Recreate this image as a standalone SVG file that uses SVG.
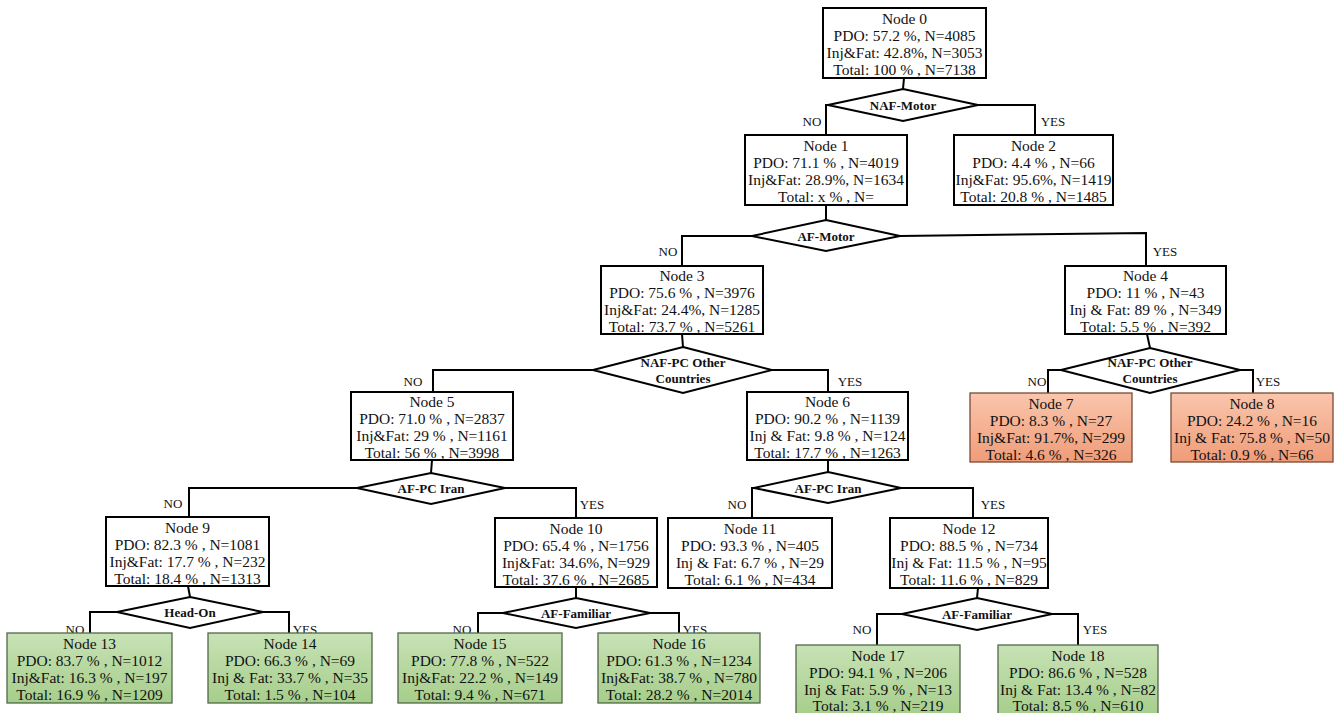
<svg xmlns="http://www.w3.org/2000/svg" width="1338" height="713" viewBox="0 0 1338 713">
<defs>
<linearGradient id="gSal" x1="0" y1="0" x2="0" y2="1"><stop offset="0" stop-color="#F9C6AD"/><stop offset="1" stop-color="#F09C78"/></linearGradient>
<linearGradient id="gGrn" x1="0" y1="0" x2="0" y2="1"><stop offset="0" stop-color="#C8E2B6"/><stop offset="1" stop-color="#A6CE8B"/></linearGradient>
<style>
.box{fill:#fff;stroke:#000;stroke-width:2}
.sal{fill:url(#gSal);stroke:#7a4a36;stroke-width:1.3}
.grn{fill:url(#gGrn);stroke:#52684a;stroke-width:1.3}
.dia{fill:#fff;stroke:#000;stroke-width:2}
.ln{fill:none;stroke:#000;stroke-width:2}
text{font-family:'Liberation Serif','Tinos','Times New Roman','DejaVu Serif',serif}
.t{font-size:15.5px;fill:#111;text-anchor:middle}
.d{font-size:13px;font-weight:bold;fill:#111;text-anchor:middle}
.l{font-size:13px;fill:#111;text-anchor:middle}
</style>
</defs>
<rect width="1338" height="713" fill="#fff"/>

<g id="connectors">
<polyline class="ln" points="904,78 903,89"/>
<polyline class="ln" points="828,105 826,105 826,135"/>
<polyline class="ln" points="978,105 1035,105 1035,135"/>
<polyline class="ln" points="826,205 826,220"/>
<polyline class="ln" points="752,236 682,236 682,266"/>
<polyline class="ln" points="900,236 1146,233 1146,266"/>
<polyline class="ln" points="682,334 683,347"/>
<polyline class="ln" points="593,370 433,370 433,392"/>
<polyline class="ln" points="772,370 828,370 828,392"/>
<polyline class="ln" points="1147,334 1150,348"/>
<polyline class="ln" points="1061,370 1048,370 1048,393"/>
<polyline class="ln" points="1240,370 1253,370 1253,393"/>
<polyline class="ln" points="432,460 431,473"/>
<polyline class="ln" points="357,488 189,488 189,517"/>
<polyline class="ln" points="505,488 576,488 576,518"/>
<polyline class="ln" points="828,460 828,472"/>
<polyline class="ln" points="754,488 752,488 752,518"/>
<polyline class="ln" points="901,488 973,488 973,518"/>
<polyline class="ln" points="188,586 190,597"/>
<polyline class="ln" points="117,612 90,612 90,633"/>
<polyline class="ln" points="263,612 289,612 289,633"/>
<polyline class="ln" points="576,587 576,598"/>
<polyline class="ln" points="503,613 478,613 478,633"/>
<polyline class="ln" points="650,613 679,613 679,633"/>
<polyline class="ln" points="978,588 977,598"/>
<polyline class="ln" points="902,614 877,614 877,645"/>
<polyline class="ln" points="1052,614 1078,614 1078,645"/>
<text class="l" x="812" y="126">NO</text>
<text class="l" x="1053" y="126">YES</text>
<text class="l" x="668" y="256">NO</text>
<text class="l" x="1165" y="256">YES</text>
<text class="l" x="413" y="386">NO</text>
<text class="l" x="850" y="386">YES</text>
<text class="l" x="1037" y="386">NO</text>
<text class="l" x="1268" y="386">YES</text>
<text class="l" x="173" y="508">NO</text>
<text class="l" x="592" y="509">YES</text>
<text class="l" x="737" y="509">NO</text>
<text class="l" x="993" y="509">YES</text>
<text class="l" x="75" y="634">NO</text>
<text class="l" x="305" y="634">YES</text>
<text class="l" x="462" y="634">NO</text>
<text class="l" x="695" y="634">YES</text>
<text class="l" x="862" y="634">NO</text>
<text class="l" x="1095" y="634">YES</text>
</g>

<g id="split-0"><polygon class="dia" points="903,89 978,105 903,121 828,105"/><text class="d" x="903" y="109.5">NAF-Motor</text></g>
<g id="split-1"><polygon class="dia" points="826,220 900,236 826,251 752,236"/><text class="d" x="826" y="240.5">AF-Motor</text></g>
<g id="split-3"><polygon class="dia" points="683,347 772,370 683,393 593,370"/><text class="d" x="683" y="367">NAF-PC Other</text><text class="d" x="683" y="383">Countries</text></g>
<g id="split-4"><polygon class="dia" points="1150,348 1240,370 1150,393 1061,370"/><text class="d" x="1150" y="367">NAF-PC Other</text><text class="d" x="1150" y="383">Countries</text></g>
<g id="split-5"><polygon class="dia" points="431,473 505,488 431,504 357,488"/><text class="d" x="431" y="492.5">AF-PC Iran</text></g>
<g id="split-6"><polygon class="dia" points="828,472 901,488 828,503 754,488"/><text class="d" x="828" y="492.5">AF-PC Iran</text></g>
<g id="split-9"><polygon class="dia" points="190,597 263,612 190,628 117,612"/><text class="d" x="190" y="616.5">Head-On</text></g>
<g id="split-10"><polygon class="dia" points="576,598 650,613 576,628 503,613"/><text class="d" x="576" y="617.5">AF-Familiar</text></g>
<g id="split-12"><polygon class="dia" points="977,598 1052,614 977,630 902,614"/><text class="d" x="977" y="618.5">AF-Familiar</text></g>

<g id="node-0"><rect class="box" x="823" y="8" width="163" height="70"/>
<text class="t" x="904.5" y="24">Node 0</text><text class="t" x="904.5" y="41">PDO: 57.2 %, N=4085</text><text class="t" x="904.5" y="58">Inj&amp;Fat: 42.8%, N=3053</text><text class="t" x="904.5" y="75">Total: 100 % , N=7138</text></g>
<g id="node-1"><rect class="box" x="745" y="135" width="162" height="70"/>
<text class="t" x="826" y="151">Node 1</text><text class="t" x="826" y="168">PDO: 71.1 % , N=4019</text><text class="t" x="826" y="185">Inj&amp;Fat: 28.9%, N=1634</text><text class="t" x="826" y="202">Total: x % , N=</text></g>
<g id="node-2"><rect class="box" x="954" y="135" width="159" height="70"/>
<text class="t" x="1033.5" y="151">Node 2</text><text class="t" x="1033.5" y="168">PDO: 4.4 % , N=66</text><text class="t" x="1033.5" y="185">Inj&amp;Fat: 95.6%, N=1419</text><text class="t" x="1033.5" y="202">Total: 20.8 % , N=1485</text></g>
<g id="node-3"><rect class="box" x="601" y="266" width="162" height="68"/>
<text class="t" x="682" y="281">Node 3</text><text class="t" x="682" y="298">PDO: 75.6 % , N=3976</text><text class="t" x="682" y="315">Inj&amp;Fat: 24.4%, N=1285</text><text class="t" x="682" y="332">Total: 73.7 % , N=5261</text></g>
<g id="node-4"><rect class="box" x="1065" y="266" width="161" height="68"/>
<text class="t" x="1145.5" y="281">Node 4</text><text class="t" x="1145.5" y="298">PDO: 11 % , N=43</text><text class="t" x="1145.5" y="315">Inj &amp; Fat: 89 % , N=349</text><text class="t" x="1145.5" y="332">Total: 5.5 % , N=392</text></g>
<g id="node-5"><rect class="box" x="351" y="392" width="162" height="68"/>
<text class="t" x="432" y="407">Node 5</text><text class="t" x="432" y="424">PDO: 71.0 % , N=2837</text><text class="t" x="432" y="441">Inj&amp;Fat: 29 % , N=1161</text><text class="t" x="432" y="458">Total: 56 % , N=3998</text></g>
<g id="node-6"><rect class="box" x="747" y="392" width="161" height="68"/>
<text class="t" x="827.5" y="407">Node 6</text><text class="t" x="827.5" y="424">PDO: 90.2 % , N=1139</text><text class="t" x="827.5" y="441">Inj &amp; Fat: 9.8 % , N=124</text><text class="t" x="827.5" y="458">Total: 17.7 % , N=1263</text></g>
<g id="node-7"><rect class="sal" x="970" y="393" width="162" height="69"/>
<text class="t" x="1051" y="409">Node 7</text><text class="t" x="1051" y="426">PDO: 8.3 % , N=27</text><text class="t" x="1051" y="443">Inj&amp;Fat: 91.7%, N=299</text><text class="t" x="1051" y="460">Total: 4.6 % , N=326</text></g>
<g id="node-8"><rect class="sal" x="1171" y="393" width="162" height="69"/>
<text class="t" x="1252" y="409">Node 8</text><text class="t" x="1252" y="426">PDO: 24.2 % , N=16</text><text class="t" x="1252" y="443">Inj &amp; Fat: 75.8 % , N=50</text><text class="t" x="1252" y="460">Total: 0.9 % , N=66</text></g>
<g id="node-9"><rect class="box" x="106" y="517" width="163" height="69"/>
<text class="t" x="187.5" y="533">Node 9</text><text class="t" x="187.5" y="550">PDO: 82.3 % , N=1081</text><text class="t" x="187.5" y="567">Inj&amp;Fat: 17.7 % , N=232</text><text class="t" x="187.5" y="584">Total: 18.4 % , N=1313</text></g>
<g id="node-10"><rect class="box" x="495" y="518" width="162" height="69"/>
<text class="t" x="576" y="534">Node 10</text><text class="t" x="576" y="551">PDO: 65.4 % , N=1756</text><text class="t" x="576" y="568">Inj&amp;Fat: 34.6%, N=929</text><text class="t" x="576" y="585">Total: 37.6 % , N=2685</text></g>
<g id="node-11"><rect class="box" x="668" y="518" width="164" height="70"/>
<text class="t" x="750" y="534">Node 11</text><text class="t" x="750" y="551">PDO: 93.3 % , N=405</text><text class="t" x="750" y="568">Inj &amp; Fat: 6.7 % , N=29</text><text class="t" x="750" y="585">Total: 6.1 % , N=434</text></g>
<g id="node-12"><rect class="box" x="890" y="518" width="158" height="70"/>
<text class="t" x="969" y="534">Node 12</text><text class="t" x="969" y="551">PDO: 88.5 % , N=734</text><text class="t" x="969" y="568">Inj &amp; Fat: 11.5 % , N=95</text><text class="t" x="969" y="585">Total: 11.6 % , N=829</text></g>
<g id="node-13"><rect class="grn" x="7" y="633" width="165" height="70"/>
<text class="t" x="89.5" y="649">Node 13</text><text class="t" x="89.5" y="666">PDO: 83.7 % , N=1012</text><text class="t" x="89.5" y="683">Inj&amp;Fat: 16.3 % , N=197</text><text class="t" x="89.5" y="700">Total: 16.9 % , N=1209</text></g>
<g id="node-14"><rect class="grn" x="208" y="633" width="164" height="70"/>
<text class="t" x="290" y="649">Node 14</text><text class="t" x="290" y="666">PDO: 66.3 % , N=69</text><text class="t" x="290" y="683">Inj &amp; Fat: 33.7 % , N=35</text><text class="t" x="290" y="700">Total: 1.5 % , N=104</text></g>
<g id="node-15"><rect class="grn" x="398" y="633" width="164" height="70"/>
<text class="t" x="480" y="649">Node 15</text><text class="t" x="480" y="666">PDO: 77.8 % , N=522</text><text class="t" x="480" y="683">Inj&amp;Fat: 22.2 % , N=149</text><text class="t" x="480" y="700">Total: 9.4 % , N=671</text></g>
<g id="node-16"><rect class="grn" x="598" y="633" width="162" height="70"/>
<text class="t" x="679" y="649">Node 16</text><text class="t" x="679" y="666">PDO: 61.3 % , N=1234</text><text class="t" x="679" y="683">Inj&amp;Fat: 38.7 % , N=780</text><text class="t" x="679" y="700">Total: 28.2 % , N=2014</text></g>
<g id="node-17"><rect class="grn" x="796" y="645" width="164" height="70"/>
<text class="t" x="878" y="661">Node 17</text><text class="t" x="878" y="678">PDO: 94.1 % , N=206</text><text class="t" x="878" y="695">Inj &amp; Fat: 5.9 % , N=13</text><text class="t" x="878" y="711">Total: 3.1 % , N=219</text></g>
<g id="node-18"><rect class="grn" x="998" y="645" width="160" height="70"/>
<text class="t" x="1078" y="661">Node 18</text><text class="t" x="1078" y="678">PDO: 86.6 % , N=528</text><text class="t" x="1078" y="695">Inj &amp; Fat: 13.4 % , N=82</text><text class="t" x="1078" y="711">Total: 8.5 % , N=610</text></g>
</svg>
